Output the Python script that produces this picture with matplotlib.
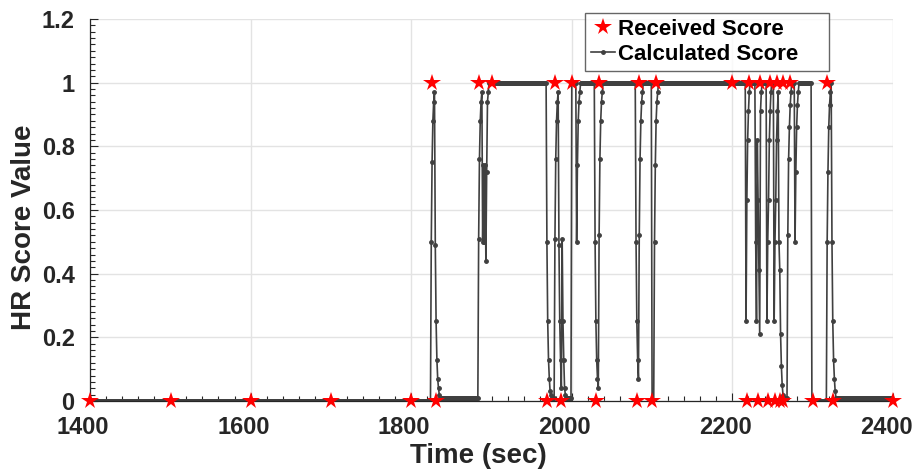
import numpy as np
import matplotlib
matplotlib.use("Agg")
from matplotlib import pyplot as plt
import matplotlib.transforms as mtransforms
from matplotlib.ticker import MultipleLocator, FormatStrFormatter

# received HR scores (value reported by the device)
received_time = [1400, 1501, 1600, 1700, 1800, 1826, 1831, 1884, 1901, 1969,
                 1979, 1986, 2000, 2030, 2034, 2081, 2084, 2100, 2105, 2200,
                 2218, 2221, 2232, 2234, 2244, 2247, 2253, 2256, 2259, 2263,
                 2263, 2272, 2300, 2318, 2325, 2400]
received_value = [0, 0, 0, 0, 0, 1, 0, 1, 1, 0,
                  1, 0, 1, 0, 1, 0, 1, 0, 1, 1,
                  0, 1, 0, 1, 0, 1, 0, 1, 0, 0,
                  1, 1, 0, 1, 0, 0]

# calculated score, one sample per second
# constant stretches: (first second, last second, value)
flat_runs = [
    (1400, 1824, 0.0),
    (1836, 1883, 0.01),
    (1897, 1968, 1.0),
    (1993, 1999, 0.01),
    (2000, 2005, 1.0),
    (2011, 2028, 1.0),
    (2039, 2079, 1.0),
    (2089, 2099, 1.0),
    (2108, 2216, 1.0),
    (2222, 2228, 1.0),
    (2237, 2242, 1.0),
    (2249, 2251, 1.0),
    (2283, 2298, 1.0),
    (2299, 2317, 0.0),
    (2329, 2400, 0.01),
]
# changing stretches: (first second, values of the following seconds)
transitions = [
    (1825, [0.5, 0.75, 0.88, 0.94, 0.97, 0.49, 0.25, 0.13, 0.07, 0.04, 0.02]),
    (1884, [0.51, 0.76, 0.88, 0.94, 0.97, 0.5, 0.74, 0.5, 0.74, 0.44, 0.72, 0.94, 0.97]),
    (1969, [0.5, 0.25, 0.13, 0.07, 0.03, 0.02, 0.01, 0.01, 0.01, 0.01, 0.51, 0.76,
            0.88, 0.94, 0.97, 0.49, 0.25, 0.13, 0.04, 0.51, 0.25, 0.13, 0.04, 0.02]),
    (2006, [0.5, 0.74, 0.88, 0.94, 0.97]),
    (2029, [0.5, 0.25, 0.13, 0.07, 0.04, 0.52, 0.76, 0.88, 0.94, 0.97]),
    (2080, [0.5, 0.25, 0.13, 0.07, 0.52, 0.76, 0.88, 0.94, 0.97]),
    (2100, [0.0, 0.0, 0.0, 0.5, 0.74, 0.88, 0.94, 0.97]),
    (2217, [0.25, 0.63, 0.82, 0.91, 0.97]),
    (2229, [0.5, 0.25, 0.82, 0.63, 0.41, 0.21, 0.91, 0.97]),
    (2243, [0.25, 0.5, 0.63, 0.82, 0.91, 0.97]),
    (2252, [0.25, 0.5, 0.63, 0.82, 0.91, 0.97]),
    (2258, [0.5, 0.41, 0.21, 0.11, 0.05, 0.02, 0.01, 0.01, 0.01, 0.01, 0.01, 0.52,
            0.76, 0.86, 0.93, 0.97, 1.0, 1.0, 1.0, 1.0, 0.5, 0.72, 0.86, 0.93, 0.97]),
    (2318, [0.5, 0.72, 0.86, 0.93, 0.97, 1.0, 0.5, 0.25, 0.13, 0.07, 0.03]),
]

calc = {}
for start, end, val in flat_runs:
    for t in range(start, end + 1):
        calc[t] = val
for start, vals in transitions:
    for i, val in enumerate(vals):
        calc[start + i] = val
calc_time = sorted(calc)
calc_value = [calc[t] for t in calc_time]

plt.rcParams['font.family'] = ['Liberation Sans', 'DejaVu Sans']
plt.rcParams['font.weight'] = 'bold'
text_color = '#262626'

fig = plt.figure(figsize=(9.17, 4.69), dpi=100)
ax = fig.add_axes([90 / 917, 1 - 401 / 469, 803 / 917, 382 / 469])

line_calc, = ax.plot(calc_time, calc_value, color='#404040', linewidth=1.2,
                     marker='.', markersize=5, label='Calculated Score', zorder=2)
line_recv, = ax.plot(received_time, received_value, linestyle='none', marker='*',
                     markersize=13, color='red', markeredgewidth=0,
                     label='Received Score', zorder=3, clip_on=False)

ax.set_xlim(1400, 2400)
ax.set_ylim(0, 1.2)
ax.xaxis.set_major_locator(MultipleLocator(200))
ax.xaxis.set_minor_locator(MultipleLocator(20))
ax.yaxis.set_major_locator(MultipleLocator(0.2))
ax.yaxis.set_minor_locator(MultipleLocator(0.02))
ax.yaxis.set_major_formatter(FormatStrFormatter('%g'))
ax.grid(True, which='major', color='#e3e3e3', linewidth=1)
ax.set_axisbelow(True)

ax.spines['top'].set_visible(False)
ax.spines['right'].set_visible(False)
for s in ('left', 'bottom'):
    ax.spines[s].set_color(text_color)
    ax.spines[s].set_linewidth(0.9)

ax.tick_params(which='both', direction='in', colors=text_color, labelsize=17, width=0.8)
ax.tick_params(which='major', length=6)
ax.tick_params(which='minor', length=3.5)
ax.tick_params(axis='x', pad=10.5)
ax.tick_params(axis='y', pad=11)

# x tick labels sit a little left of their ticks in the original
shift = mtransforms.ScaledTranslation(-7 / 100, 0, fig.dpi_scale_trans)
for lbl in ax.get_xticklabels():
    lbl.set_transform(lbl.get_transform() + shift)

ax.set_xlabel('Time (sec)', fontsize=20, fontweight='bold', color=text_color)
ax.set_ylabel('HR Score Value', fontsize=20, fontweight='bold', color=text_color)
ax.xaxis.set_label_coords(0.484, -0.11)
ax.yaxis.set_label_coords(-0.066, 0.455)

leg = ax.legend(handles=[line_recv, line_calc], loc='upper left',
                bbox_to_anchor=(585 / 917, 1 - 71 / 469, 244 / 917, 58 / 469),
                bbox_transform=fig.transFigure, mode='expand',
                borderaxespad=0, fontsize=16, frameon=True, fancybox=False,
                handlelength=1.1, handletextpad=0.15, borderpad=0.25,
                labelspacing=0.2, markerscale=1.0)
leg.get_frame().set_edgecolor('#404040')
leg.get_frame().set_linewidth(1.0)
for txt in leg.get_texts():
    txt.set_color('black')

plt.savefig('out.png', dpi=100)
